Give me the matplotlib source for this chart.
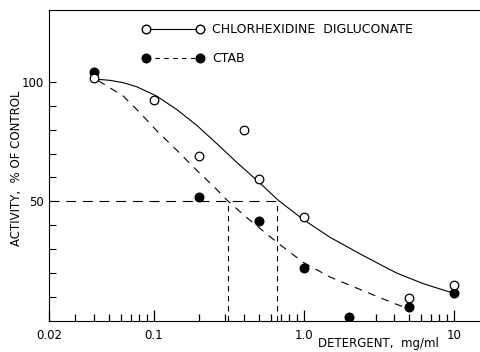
import matplotlib
matplotlib.use('Agg')
import matplotlib.pyplot as plt
from matplotlib.ticker import FixedLocator, NullFormatter, FixedFormatter
from matplotlib.lines import Line2D

# measured data points
chx_x = [0.04, 0.1, 0.2, 0.4, 0.5, 1.0, 5.0, 10.0]
chx_y = [101.5, 92.5, 69, 80, 59.5, 43.6, 9.8, 15]
ctab_x = [0.04, 0.2, 0.5, 1.0, 2.0, 5.0, 10.0]
ctab_y = [104, 52, 42, 22, 1.5, 6, 11.6]

# fitted curves
chx_fit_x = [0.0425, 0.051, 0.0626, 0.0769, 0.1045, 0.142, 0.193, 0.262, 0.357, 0.510,
             0.676, 0.991, 1.49, 2.49, 4.16, 6.25, 9.91]
chx_fit_y = [101, 100.6, 99.6, 97.9, 94.0, 88.4, 81.8, 74.2, 66.3, 57.6,
             50.4, 42.4, 35.0, 27.3, 20.0, 15.6, 11.6]
ctab_fit_x = [0.0425, 0.0626, 0.0809, 0.1045, 0.142, 0.193, 0.262, 0.306, 0.416, 0.676,
              0.991, 1.49, 2.49, 4.16, 4.97]
ctab_fit_y = [100.5, 94.0, 87.0, 79.5, 71.4, 63.0, 55.0, 50.6, 43.2, 32.4,
              24.5, 18.4, 12.6, 6.9, 5.3]

# 50% level and IC50 values
level = 50
ic50_ctab = 0.31
ic50_chx = 0.66

xticks = [0.02, 0.1, 1.0, 10]
xticklabels = ['0.02', '0.1', '1.0', '10']
yticks = [50, 100]
yticklabels = ['50', '100']

plt.rcParams['font.family'] = ['DejaVu Sans']

fig = plt.figure(figsize=(4.8, 3.52), dpi=100)
ax = fig.add_axes([49/480, 31/352, 431/480, 311/352])

lw = 0.8
ax.plot(chx_fit_x, chx_fit_y, '-', color='black', lw=lw)
ax.plot(ctab_fit_x, ctab_fit_y, '--', color='black', lw=lw, dashes=(7, 6))

ax.plot([0.02, ic50_chx], [level, level], '--', color='black', lw=lw, dashes=(9, 6))
ax.plot([ic50_ctab, ic50_ctab], [0, level], '--', color='black', lw=lw, dashes=(5, 4))
ax.plot([ic50_chx, ic50_chx], [0, level], '--', color='black', lw=lw, dashes=(5, 4))

ax.plot(ctab_x, ctab_y, 'o', color='black', ms=6.2, zorder=3)
ax.plot(chx_x, chx_y, 'o', mfc='white', mec='black', mew=0.9, ms=6.2, zorder=4)

h1 = Line2D([], [], color='black', lw=lw, ls='-', marker='o', mfc='white', mec='black', ms=6.2)
h2 = Line2D([], [], color='black', lw=lw, ls=(0, (4, 4)), marker='o', mfc='black', mec='black', ms=6.2)
leg = ax.legend([h1, h2], ['CHLORHEXIDINE  DIGLUCONATE', 'CTAB'], loc='upper left',
                bbox_to_anchor=(0.205, 0.974), frameon=False, numpoints=2,
                handlelength=4.9, handletextpad=0.7, labelspacing=1.3,
                fontsize=9, borderaxespad=0)

ax.set_xscale('log')
ax.set_xlim(0.02, 14.9)
ax.set_ylim(0, 130)

ax.xaxis.set_major_locator(FixedLocator(xticks))
ax.xaxis.set_major_formatter(FixedFormatter(xticklabels))
minors = [m * 10.0**e for e in (-2, -1, 0) for m in range(2, 10)]
minors = [v for v in minors if v > 0.021]
ax.xaxis.set_minor_locator(FixedLocator(minors))
ax.xaxis.set_minor_formatter(NullFormatter())

ax.yaxis.set_major_locator(FixedLocator(yticks))
ax.yaxis.set_major_formatter(FixedFormatter(yticklabels))
ax.yaxis.set_minor_locator(FixedLocator([10, 20, 30, 40, 60, 70, 80, 90]))

ax.tick_params(axis='x', which='major', direction='in', length=8, width=0.9, labelsize=8.5, pad=6)
ax.tick_params(axis='x', which='minor', direction='in', length=5, width=0.9)
ax.tick_params(axis='y', which='both', direction='in', length=5, width=0.8, labelsize=8.5, pad=4)

ax.spines['right'].set_visible(False)
for s in ('left', 'bottom', 'top'):
    ax.spines[s].set_linewidth(0.8)

ax.set_xlabel('DETERGENT,  mg/ml', fontsize=8.5)
ax.xaxis.set_label_coords(0.765, -0.052)
ax.set_ylabel('ACTIVITY,  % OF CONTROL', fontsize=8.5)
ax.yaxis.set_label_coords(-0.06, 0.49)

fig.savefig('out.png', dpi=100)
